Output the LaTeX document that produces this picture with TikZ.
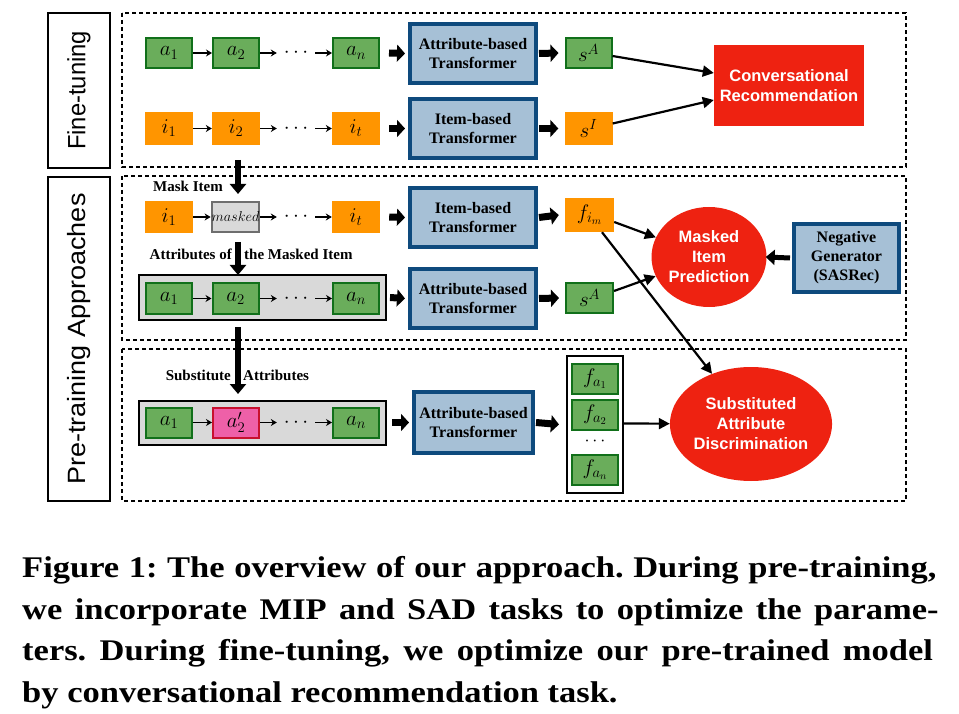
\RequirePackage{fix-cm}
\documentclass[tikz,border=0pt]{standalone}
\usepackage{fontspec}
\setmainfont{Liberation Serif}
\newfontfamily\arialf{Liberation Sans}
\usetikzlibrary{arrows.meta,shapes.geometric}
\definecolor{gfill}{HTML}{6AAD5B}
\definecolor{gdraw}{HTML}{11701A}
\definecolor{ofill}{HTML}{FF9500}
\definecolor{bfill}{HTML}{A6C0D6}
\definecolor{bdraw}{HTML}{0E4A7D}
\definecolor{rfill}{HTML}{EE2211}
\definecolor{pfill}{HTML}{EE60A8}
\definecolor{pdraw}{HTML}{C8102E}
\definecolor{grayf}{HTML}{D9D9D9}
\definecolor{grayd}{HTML}{6E6E6E}
\newcommand{\mfont}{\fontsize{21}{24}\selectfont}
\newcommand{\tfont}{\bfseries\fontsize{16}{19}\selectfont}
\newcommand{\lfont}{\bfseries\fontsize{15}{18}\selectfont}
\newcommand{\sfontb}{\arialf\bfseries\fontsize{16.5}{20}\selectfont}
\newcommand{\capfont}{\bfseries\fontsize{30}{36}\selectfont\frenchspacing}
\tikzset{
  gbox/.style={draw=gdraw, fill=gfill, line width=2pt, minimum width=46pt, minimum height=30pt, inner sep=0pt, font=\mfont},
  obox/.style={fill=ofill, minimum width=48pt, minimum height=33pt, inner sep=0pt, font=\mfont},
  tbox/.style={draw=bdraw, fill=bfill, line width=4pt, minimum width=126pt, minimum height=59pt, inner sep=0pt, align=center, font=\tfont},
  dotnode/.style={minimum width=38pt, inner sep=0pt, font=\mfont},
  seqarr/.style={-{Stealth[length=6pt,width=7pt]}, line width=1.3pt},
  fatarr/.style={-{Triangle[length=8pt,width=17pt]}, line width=7pt},
  downarr/.style={-{Triangle[length=10pt,width=16pt]}, line width=5.5pt},
  conarr/.style={-{Triangle[length=11pt,width=11pt]}, line width=2.2pt},
  dbox/.style={draw, dash pattern=on 4pt off 3pt, line width=1.5pt},
  graybox/.style={draw, fill=grayf, line width=2pt, minimum width=247pt, minimum height=44pt, inner sep=0pt},
  redell/.style={ellipse, fill=rfill, inner sep=0pt, text=white, align=center, font=\sfontb},
  lbl/.style={font=\lfont, inner sep=0pt},
  sidebox/.style={draw, line width=2pt, minimum width=62pt, inner sep=0pt}
}
\begin{document}
\begin{tikzpicture}[x=1pt,y=-1pt]
\useasboundingbox (0,0) rectangle (959,714);
% side labels
\node[sidebox, minimum height=155pt] (ftl) at (79,90.5) {\rotatebox{90}{\arialf\fontsize{25}{25}\selectfont\scalebox{0.95}[1]{Fine-tuning}}};
\node[sidebox, minimum height=324pt] (ptl) at (79,339) {\rotatebox{90}{\arialf\fontsize{25}{25}\selectfont\scalebox{1.08}[1]{Pre-training Approaches}}};
% dashed regions
\draw[dbox] (122,13) rectangle (906,167);
\draw[dbox] (122,176) rectangle (906,340);
\draw[dbox] (122,349) rectangle (906,501);

% ---------- fine-tuning ----------
\node[gbox] (a1) at (169,53) {$a_1$};
\node[gbox] (a2) at (236,53) {$a_2$};
\node[dotnode] (d1) at (296,53) {$\cdots$};
\node[gbox] (an) at (356,53) {$a_n$};
\draw[seqarr] (a1) -- (a2);
\draw[seqarr] (a2) -- (d1);
\draw[seqarr] (d1) -- (an);
\node[tbox] (t1) at (473,53.5) {Attribute-based\\Transformer};
\node[gbox] (sa) at (588.5,53) {$s^A$};
\draw[fatarr] ([xshift=9pt]an.east) -- ([xshift=-3pt]t1.west);
\draw[fatarr] ([xshift=1pt]t1.east) -- ([xshift=-6pt]sa.west);

\node[obox] (i1) at (169,128.5) {$i_1$};
\node[obox] (i2) at (236,128.5) {$i_2$};
\node[dotnode] (d2) at (296,128.5) {$\cdots$};
\node[obox] (it) at (356,128.5) {$i_t$};
\draw[seqarr] (i1) -- (i2);
\draw[seqarr] (i2) -- (d2);
\draw[seqarr] (d2) -- (it);
\node[tbox] (t2) at (473,128.5) {Item-based\\Transformer};
\node[obox] (si) at (588.5,128.5) {$s^I$};
\draw[fatarr] ([xshift=9pt]it.east) -- ([xshift=-3pt]t2.west);
\draw[fatarr] ([xshift=1pt]t2.east) -- ([xshift=-6pt]si.west);

\node[fill=rfill, minimum width=150pt, minimum height=81pt, inner sep=0pt, text=white, align=center, font=\sfontb] (cr) at (789,85.5) {Conversational\\Recommendation};
\draw[conarr] ([yshift=-3pt]sa.east) -- ([yshift=12.5pt]cr.west);
\draw[conarr] ([yshift=5pt]si.east) -- ([yshift=-14.5pt]cr.west);

% ---------- masked item prediction ----------
\coordinate (dn1s) at (238,160);
\coordinate (dn1e) at (238,194);
\draw[downarr] (dn1s) -- (dn1e);
\node[lbl, anchor=east] (mlab) at (223,186) {Mask Item};

\node[obox, minimum height=32pt] (mi1) at (169,217) {$i_1$};
\node[draw=grayd, fill=grayf, line width=2pt, minimum width=46pt, minimum height=30pt, inner sep=0pt, font=\fontsize{14.3}{16}\selectfont] (mk) at (235.5,217) {$masked$};
\node[dotnode] (d3) at (296,217) {$\cdots$};
\node[obox, minimum height=32pt] (mit) at (356,217) {$i_t$};
\draw[seqarr] (mi1) -- (mk);
\draw[seqarr] (mk) -- (d3);
\draw[seqarr] (d3) -- (mit);
\node[tbox] (t3) at (473,217.5) {Item-based\\Transformer};
\node[obox, minimum width=49pt, minimum height=34pt] (fim) at (589.5,215) {$f_{i_m}$};
\draw[fatarr] ([xshift=9pt]mit.east) -- ([xshift=-3pt]t3.west);
\draw[fatarr] ([xshift=1pt]t3.east) -- ([xshift=-6pt]fim.west);

\node[lbl, anchor=east] (alab1) at (232,254) {Attributes of};
\node[lbl, anchor=west] (alab2) at (244,254) {the Masked Item};
\coordinate (dn2s) at (238,242);
\coordinate (dn2e) at (238,275);
\draw[downarr] (dn2s) -- (dn2e);

\node[graybox] (g2) at (262.5,297.5) {};
\node[gbox] (b1) at (169,298.5) {$a_1$};
\node[gbox] (b2) at (235.5,298.5) {$a_2$};
\node[dotnode] (d4) at (296,298.5) {$\cdots$};
\node[gbox] (bn) at (356,298.5) {$a_n$};
\draw[seqarr] (b1) -- (b2);
\draw[seqarr] (b2) -- (d4);
\draw[seqarr] (d4) -- (bn);
\node[tbox] (t4) at (473,298.5) {Attribute-based\\Transformer};
\node[gbox, minimum width=47pt] (sa2) at (589.5,298) {$s^A$};
\draw[fatarr] ([xshift=3pt]g2.east) -- ([xshift=-3pt]t4.west);
\draw[fatarr] ([xshift=1pt]t4.east) -- ([xshift=-6pt]sa2.west);

\node[redell, minimum width=115pt, minimum height=100pt] (mip) at (709,257) {Masked\\Item\\Prediction};
\node[tbox, minimum width=105pt, minimum height=68pt] (ng) at (846.5,258) {Negative\\Generator\\(SASRec)};
\draw[-{Triangle[length=9pt,width=15pt]}, line width=5pt] ([xshift=-2pt]ng.west) -- ([xshift=-1pt]mip.east);
\draw[conarr] ([yshift=-7pt]fim.east) -- (mip);
\draw[conarr] ([yshift=7pt]sa2.east) -- (mip);

% ---------- substituted attribute discrimination ----------
\coordinate (dn3s) at (238,327);
\coordinate (dn3e) at (238,394);
\draw[downarr] (dn3s) -- (dn3e);
\node[lbl, anchor=east] (slab1) at (231,375) {Substitute};
\node[lbl, anchor=west] (slab2) at (243,375) {Attributes};

\node[graybox] (g3) at (262.5,422.5) {};
\node[gbox] (c1) at (169,422.5) {$a_1$};
\node[gbox, draw=pdraw, fill=pfill] (c2) at (236,422.5) {$a_2'$};
\node[dotnode] (d5) at (296,422.5) {$\cdots$};
\node[gbox] (cn) at (356,422.5) {$a_n$};
\draw[seqarr] (c1) -- (c2);
\draw[seqarr] (c2) -- (d5);
\draw[seqarr] (d5) -- (cn);
\node[tbox, minimum width=119pt, minimum height=61pt] (t5) at (473.5,422.5) {Attribute-based\\Transformer};
\draw[fatarr] ([xshift=5pt]g3.east) -- ([xshift=-3pt]t5.west);

\node[draw, line width=2pt, minimum width=56pt, minimum height=137pt, inner sep=0pt] (col) at (595,424.5) {};
\node[gbox] (fa1) at (595,378.5) {$f_{a_1}$};
\node[gbox] (fa2) at (595,415) {$f_{a_2}$};
\node[font=\fontsize{18}{18}\selectfont, inner sep=0pt] (d6) at (595,441) {$\cdots$};
\node[gbox] (fan) at (595,469.5) {$f_{a_n}$};
\draw[fatarr] ([xshift=1pt]t5.east) -- ([xshift=-7pt]col.west);

\node[redell, minimum width=130pt, minimum height=114pt] (sad) at (751,424) {Substituted\\Attribute\\Discrimination};
\draw[conarr] ([yshift=1pt]col.east) -- (sad);
\draw[conarr] ([xshift=12.5pt]fim.south) -- (sad);

% ---------- caption ----------
\node[anchor=base west, inner sep=0pt, font=\capfont] (cap1) at (22,577) {\scalebox{1.15}[1]{\makebox[795pt][s]{Figure 1: The overview of our approach. During pre-training,}}};
\node[anchor=base west, inner sep=0pt, font=\capfont] (cap2) at (22,619) {\scalebox{1.15}[1]{\makebox[797pt][s]{we incorporate MIP and SAD tasks to optimize the parame-}}};
\node[anchor=base west, inner sep=0pt, font=\capfont] (cap3) at (22,660) {\scalebox{1.15}[1]{\makebox[792pt][s]{ters. During fine-tuning, we optimize our pre-trained model}}};
\node[anchor=base west, inner sep=0pt, font=\capfont] (cap4) at (22,702) {\scalebox{1.15}[1]{by conversational recommendation task.}};
\end{tikzpicture}
\end{document}
